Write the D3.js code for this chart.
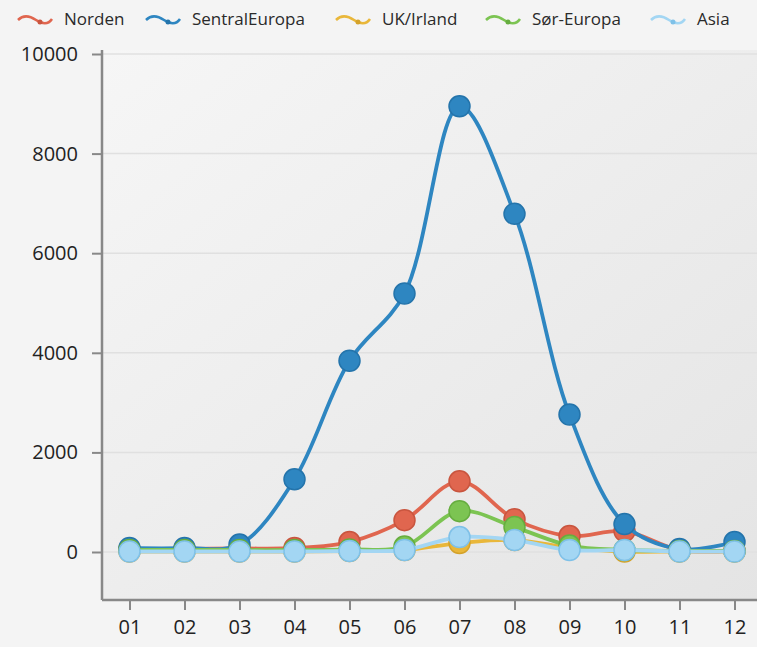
<!DOCTYPE html>
<html><head><meta charset="utf-8">
<script src="https://cdn.jsdelivr.net/npm/d3@7"></script>
<style>
html,body{margin:0;padding:0;background:#f4f4f4;}
svg{display:block;}
text{font-family:"Open Sans",sans-serif;}
</style></head>
<body>
<svg id="c" width="757" height="647"></svg>
<script>
const months = ["01","02","03","04","05","06","07","08","09","10","11","12"];
const seriesNames = ["Norden","SentralEuropa","UK/Irland","Sør-Europa","Asia"];
const seriesColors = ["#e0664f","#2e86c1","#e9b73a","#7cc452","#a3d6f3"];
const seriesStroke = ["#c9553f","#2474ab","#d4a22a","#66ad3f","#7fc1e8"];
const norden = [50,60,70,80,200,640,1420,660,320,420,40,30];
const sentral = [80,80,150,1460,3840,5190,8950,6790,2760,560,60,200];
const ukIrland = [10,10,10,10,20,40,180,240,90,10,10,10];
const sorEuropa = [40,40,40,40,50,110,820,500,130,40,20,20];
const asia = [10,10,10,10,20,40,300,240,40,40,10,10];
const yTicks = [0,2000,4000,6000,8000,10000];
const seriesValues = [norden, sentral, ukIrland, sorEuropa, asia];

const svg = d3.select("#c");
const defs = svg.append("defs");
const grad = defs.append("linearGradient").attr("id","bg").attr("x1","0").attr("y1","0").attr("x2","1").attr("y2","1");
grad.append("stop").attr("offset","0").attr("stop-color","#f6f6f6");
grad.append("stop").attr("offset","1").attr("stop-color","#e4e4e4");

const pL = 102, pR = 762, pT = 50, pB = 600;
const x = d3.scalePoint().domain(months).range([pL, pR]).padding(0.5);
const y = d3.scaleLinear().domain([0, 10000]).range([552, 54]);

svg.append("rect").attr("width",757).attr("height",647).attr("fill","#f4f4f4");
svg.append("rect").attr("x",pL).attr("y",pT).attr("width",pR-pL).attr("height",pB-pT).attr("fill","url(#bg)");

// gridlines
svg.append("g").selectAll("line").data(yTicks).join("line")
  .attr("x1",pL).attr("x2",pR).attr("y1",d=>y(d)).attr("y2",d=>y(d))
  .attr("stroke","#e0e0e0").attr("stroke-width",1.5);

// y axis
const yAxis = svg.append("g").attr("transform",`translate(${pL},0)`)
  .call(d3.axisLeft(y).tickValues(yTicks).tickSize(10).tickPadding(14).tickFormat(d3.format("d")));
yAxis.select(".domain").remove();
yAxis.selectAll(".tick line").attr("stroke","#888").attr("stroke-width",2);
yAxis.selectAll(".tick text").attr("font-size",20).attr("fill","#222");

// x axis
const xAxis = svg.append("g").attr("transform",`translate(0,${pB})`)
  .call(d3.axisBottom(x).tickSize(10).tickPadding(10));
xAxis.select(".domain").remove();
xAxis.selectAll(".tick line").attr("stroke","#888").attr("stroke-width",2);
xAxis.selectAll(".tick text").attr("font-size",20).attr("fill","#222");

svg.append("line").attr("x1",pL).attr("x2",pL).attr("y1",pT).attr("y2",pB).attr("stroke","#888").attr("stroke-width",2.5);
svg.append("line").attr("x1",pL).attr("x2",pR).attr("y1",pB).attr("y2",pB).attr("stroke","#888").attr("stroke-width",2.5);

const line = d3.line().x((d,i)=>x(months[i])).y(d=>y(d)).curve(d3.curveCatmullRom.alpha(0.5));

seriesValues.forEach((vals, si) => {
  const g = svg.append("g");
  g.append("path").datum(vals).attr("d", line).attr("fill","none")
    .attr("stroke", seriesColors[si]).attr("stroke-width",3.8);
  g.selectAll("circle").data(vals).join("circle")
    .attr("cx",(d,i)=>x(months[i])).attr("cy",d=>y(d)).attr("r",10.5)
    .attr("fill",seriesColors[si]).attr("stroke",seriesStroke[si]).attr("stroke-width",1.5);
});

// legend
const legendX = [18, 146, 336, 486, 651];
const lg = svg.append("g");
seriesNames.forEach((name, i) => {
  const gx = legendX[i];
  const g = lg.append("g").attr("transform",`translate(${gx},19)`);
  g.append("path").attr("d","M0,1 C6,-5 12,-3 18,1 C24,5 30,6 34,0")
    .attr("fill","none").attr("stroke",seriesColors[i]).attr("stroke-width",2.5);
  g.append("circle").attr("cx",22).attr("cy",3).attr("r",2.5).attr("fill",seriesStroke[i]);
  g.append("text").attr("x",46).attr("y",6).attr("font-size",17).attr("fill","#2a2a2a").text(name);
});
</script>
</body></html>
